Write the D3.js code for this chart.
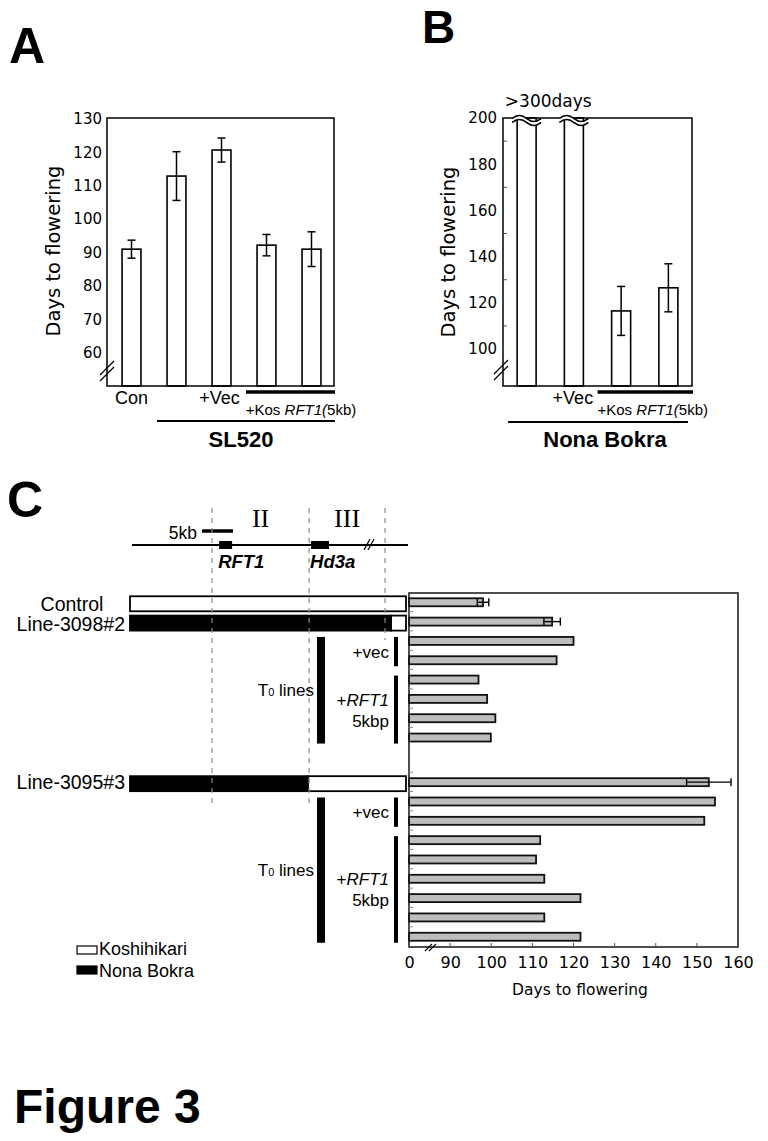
<!DOCTYPE html>
<html><head><meta charset="utf-8">
<script src="https://cdn.jsdelivr.net/npm/d3@7"></script>
<style>html,body{margin:0;padding:0;background:#fff}</style>
</head><body>
<svg id="fig" width="768" height="1141"></svg>
<script>
// ================= DATA =================
// Panel A
const aCategories = ["Con", "SL520", "+Vec", "+Kos RFT1 a", "+Kos RFT1 b"];
const aValues = [91.0, 112.9, 120.7, 92.2, 91.0];
const aErrors = [2.7, 7.3, 3.6, 3.2, 5.2];
const aTicks = [60, 70, 80, 90, 100, 110, 120, 130];

// Panel B (first two bars: >300 days, truncated)
const bCategories = ["Nona Bokra", "+Vec", "+Kos RFT1 a", "+Kos RFT1 b"];
const bValues = [300, 300, 116.5, 126.5];
const bErrors = [0, 0, 10.6, 10.4];
const bTicks = [100, 120, 140, 160, 180, 200];
const bMinorTicks = [110, 130, 150, 170, 190];

// Panel C
const cRows = ["Control", "Line-3098#2",
  "3098 vec-1", "3098 vec-2", "3098 RFT1-1", "3098 RFT1-2", "3098 RFT1-3", "3098 RFT1-4",
  "Line-3095#3",
  "3095 vec-1", "3095 vec-2", "3095 RFT1-1", "3095 RFT1-2", "3095 RFT1-3", "3095 RFT1-4", "3095 RFT1-5", "3095 RFT1-6"];
const cGroup = [1,1,1,1,1,1,1,1, 2,2,2,2,2,2,2,2,2];
const cValues = [98.0, 114.8, 120.0, 115.9, 96.9, 99.0, 101.0, 99.9,
  152.9, 154.4, 151.8, 111.9, 110.9, 112.9, 121.7, 112.9, 121.7];
const cErrors = [1.4, 2.0, 0, 0, 0, 0, 0, 0, 5.4, 0, 0, 0, 0, 0, 0, 0, 0];
const cTicks = [80, 90, 100, 110, 120, 130, 140, 150, 160];
const cTickLabels = ["0", "90", "100", "110", "120", "130", "140", "150", "160"];

// genotype map, positions relative along the drawn chromosome segment (0..1)
const mapBoundaries = [0.297, 0.649, 0.924];
const mapRegions = [{label: "II", from: 0.297, to: 0.649}, {label: "III", from: 0.649, to: 0.924}];
const mapGenes = [{name: "RFT1", start: 0.323, end: 0.370}, {name: "Hd3a", start: 0.656, end: 0.721}];
const mapScaleBar = {label: "5kb", start: 0.261, end: 0.373};
const genotypes = [
  {row: "Control", segments: [{from: 0, to: 1, type: "Koshihikari"}]},
  {row: "Line-3098#2", segments: [{from: 0, to: 0.946, type: "Nona Bokra"}, {from: 0.946, to: 1, type: "Koshihikari"}]},
  {row: "Line-3095#3", segments: [{from: 0, to: 0.645, type: "Nona Bokra"}, {from: 0.645, to: 1, type: "Koshihikari"}]}
];
const cT0Spans = [{from: "3098 vec-1", to: "3098 RFT1-4"}, {from: "3095 vec-1", to: "3095 RFT1-6"}];
const cConstructSpans = [
  {label: ["+vec"], from: "3098 vec-1", to: "3098 vec-2"},
  {label: ["+RFT1", "5kbp"], from: "3098 RFT1-1", to: "3098 RFT1-4"},
  {label: ["+vec"], from: "3095 vec-1", to: "3095 vec-2"},
  {label: ["+RFT1", "5kbp"], from: "3095 RFT1-1", to: "3095 RFT1-6"}
];
const legendItems = ["Koshihikari", "Nona Bokra"];

// ================= DRAWING =================
const SANS = "'Liberation Sans', Arial, Helvetica, sans-serif";
const ROUND = "'DejaVu Sans', sans-serif";
const SERIF = "'Liberation Serif', 'Times New Roman', serif";
const svg = d3.select("#fig");
svg.append("rect").attr("width", 768).attr("height", 1141).attr("fill", "#fff");

function txt(g, x, y, s, opt = {}) {
  return g.append("text").attr("x", x).attr("y", y)
    .attr("font-family", opt.family || SANS)
    .attr("font-size", opt.size || 16)
    .attr("font-weight", opt.weight || "normal")
    .attr("font-style", opt.style || "normal")
    .attr("text-anchor", opt.anchor || "start")
    .attr("fill", "#000").text(s);
}

// panel letters
txt(svg, 9, 63, "A", {size: 50, weight: "bold"});
txt(svg, 422, 43, "B", {size: 46, weight: "bold"});
txt(svg, 7, 517, "C", {size: 50, weight: "bold"});
txt(svg, 14, 1123, "Figure 3", {size: 48, weight: "bold"});

function breakMark(g, cx, cy) {
  [-3, 3].forEach(o => {
    g.append("line").attr("x1", cx - 7).attr("y1", cy + 7 + o)
      .attr("x2", cx + 7).attr("y2", cy - 7 + o)
      .attr("stroke", "#000").attr("stroke-width", 1.3);
  });
}

// ---------- Panel A ----------
(function () {
  const g = svg.append("g");
  const L = 107, R = 334, T = 118, B = 386;
  const y = d3.scaleLinear().domain([50, 130]).range([B, 119]);
  const x = d3.scaleBand().domain(aCategories).range([109, 334]).paddingInner(0.58).paddingOuter(0.29);

  g.selectAll("rect.bar").data(aCategories).join("rect")
    .attr("x", d => x(d)).attr("width", x.bandwidth())
    .attr("y", (d, i) => y(aValues[i])).attr("height", (d, i) => B - y(aValues[i]))
    .attr("fill", "#fff").attr("stroke", "#000").attr("stroke-width", 1.6);

  aCategories.forEach((d, i) => {
    const cx = x(d) + x.bandwidth() / 2, e = aErrors[i], v = aValues[i];
    g.append("line").attr("x1", cx).attr("x2", cx).attr("y1", y(v + e)).attr("y2", y(v - e)).attr("stroke", "#000").attr("stroke-width", 1.5);
    [v + e, v - e].forEach(t => g.append("line").attr("x1", cx - 4).attr("x2", cx + 4).attr("y1", y(t)).attr("y2", y(t)).attr("stroke", "#000").attr("stroke-width", 1.5));
  });

  g.append("rect").attr("x", L).attr("y", T).attr("width", R - L).attr("height", B - T)
    .attr("fill", "none").attr("stroke", "#000").attr("stroke-width", 1.5);

  const axis = d3.axisLeft(y).tickValues(aTicks).tickSize(0).tickPadding(5);
  const ag = g.append("g").attr("transform", `translate(${L},0)`).call(axis);
  ag.select(".domain").remove();
  ag.selectAll("text").attr("font-family", ROUND).attr("font-size", 15).attr("fill", "#000");

  breakMark(g, 107, 371);

  g.append("text").attr("transform", "translate(60,251) rotate(-90)")
    .attr("text-anchor", "middle").attr("font-family", ROUND).attr("font-size", 19.5).text("Days to flowering");

  const c = i => x(aCategories[i]) + x.bandwidth() / 2;
  txt(g, c(0), 404, "Con", {size: 18, anchor: "middle"});
  txt(g, c(2) - 2, 404, "+Vec", {size: 18, anchor: "middle"});
  g.append("line").attr("x1", x(aCategories[3]) - 11).attr("x2", R + 1).attr("y1", 392).attr("y2", 392).attr("stroke", "#000").attr("stroke-width", 3.5);
  const kt = txt(g, (c(3) + c(4)) / 2 + 12, 415, "", {size: 15, anchor: "middle"});
  kt.append("tspan").text("+Kos ");
  kt.append("tspan").attr("font-style", "italic").text("RFT1(");
  kt.append("tspan").text("5kb)");
  g.append("line").attr("x1", x(aCategories[1]) - 10).attr("x2", R + 1).attr("y1", 421).attr("y2", 421).attr("stroke", "#000").attr("stroke-width", 1.8);
  txt(g, 241, 447, "SL520", {size: 22, weight: "bold", anchor: "middle"});
})();

// ---------- Panel B ----------
(function () {
  const g = svg.append("g");
  const L = 503, R = 692, T = 118, B = 386;
  const y = d3.scaleLinear().domain([84, 200]).range([B, T]).clamp(true);
  const x = d3.scaleBand().domain(bCategories).range([L, R]).paddingInner(0.598).paddingOuter(0.299);

  g.selectAll("rect.bar").data(bCategories).join("rect")
    .attr("x", d => x(d)).attr("width", x.bandwidth())
    .attr("y", (d, i) => y(bValues[i])).attr("height", (d, i) => B - y(bValues[i]))
    .attr("fill", "#fff").attr("stroke", "#000").attr("stroke-width", 1.6);

  bCategories.forEach((d, i) => {
    const e = bErrors[i], v = bValues[i];
    if (!e) return;
    const cx = x(d) + x.bandwidth() / 2;
    g.append("line").attr("x1", cx).attr("x2", cx).attr("y1", y(v + e)).attr("y2", y(v - e)).attr("stroke", "#000").attr("stroke-width", 1.5);
    [v + e, v - e].forEach(t => g.append("line").attr("x1", cx - 4).attr("x2", cx + 4).attr("y1", y(t)).attr("y2", y(t)).attr("stroke", "#000").attr("stroke-width", 1.5));
  });

  g.append("rect").attr("x", L).attr("y", T).attr("width", R - L).attr("height", B - T)
    .attr("fill", "none").attr("stroke", "#000").attr("stroke-width", 1.5);

  // minor inward ticks
  g.selectAll("line.minor").data(bMinorTicks).join("line")
    .attr("x1", L).attr("x2", L + 4).attr("y1", d => y(d)).attr("y2", d => y(d))
    .attr("stroke", "#555").attr("stroke-width", 1);

  const axis = d3.axisLeft(y).tickValues(bTicks).tickSize(0).tickPadding(6);
  const ag = g.append("g").attr("transform", `translate(${L},0)`).call(axis);
  ag.select(".domain").remove();
  ag.selectAll("text").attr("font-family", ROUND).attr("font-size", 15).attr("fill", "#000");

  // wavy break marks on truncated bars
  const wave = d3.line().curve(d3.curveBasis);
  bCategories.forEach((d, i) => {
    if (bValues[i] <= 200) return;
    const x0 = x(d) - 5, x1 = x(d) + x.bandwidth() + 5;
    const pts = off => d3.range(0, 1.0001, 0.05).map(t => [x0 + t * (x1 - x0), T + off - 3 * Math.sin(2 * Math.PI * t)]);
    const top = pts(0.5), bot = pts(4.5);
    g.append("path").attr("d", wave(top.concat(bot.slice().reverse())) ).attr("fill", "#fff").attr("stroke", "none");
    g.append("path").attr("d", d3.line()(top.concat(bot.slice().reverse()))).attr("fill", "#fff").attr("stroke", "none");
    g.append("path").attr("d", wave(top)).attr("fill", "none").attr("stroke", "#000").attr("stroke-width", 1.6);
    g.append("path").attr("d", wave(bot)).attr("fill", "none").attr("stroke", "#000").attr("stroke-width", 1.6);
  });
  const c = i => x(bCategories[i]) + x.bandwidth() / 2;
  txt(g, (c(0) + c(1)) / 2 - 2, 107, ">300days", {family: ROUND, size: 17, anchor: "middle"});

  breakMark(g, 501, 370);

  g.append("text").attr("transform", "translate(455,252) rotate(-90)")
    .attr("text-anchor", "middle").attr("font-family", ROUND).attr("font-size", 19.5).text("Days to flowering");

  txt(g, c(1) - 1, 404, "+Vec", {size: 18, anchor: "middle"});
  g.append("line").attr("x1", x(bCategories[2]) - 14).attr("x2", R + 1).attr("y1", 392).attr("y2", 392).attr("stroke", "#000").attr("stroke-width", 3.5);
  const kt = txt(g, (c(2) + c(3)) / 2 + 8, 415, "", {size: 15, anchor: "middle"});
  kt.append("tspan").text("+Kos ");
  kt.append("tspan").attr("font-style", "italic").text("RFT1(");
  kt.append("tspan").text("5kb)");
  g.append("line").attr("x1", x(bCategories[0]) - 9).attr("x2", R - 4).attr("y1", 422).attr("y2", 422).attr("stroke", "#000").attr("stroke-width", 1.8);
  txt(g, 605, 447, "Nona Bokra", {size: 22, weight: "bold", anchor: "middle"});
})();

// ---------- Panel C ----------
(function () {
  const g = svg.append("g");
  const mx = d3.scaleLinear().domain([0, 1]).range([130, 406]);
  const groupGap = 1.31;
  const slot = cRows.map((r, i) => i + (cGroup[i] === 2 ? groupGap : 0));
  const slotOf = r => slot[cRows.indexOf(r)];
  const y = d3.scaleLinear().domain([-0.48, 17.84]).range([593, 947]);
  const yr = r => y(slotOf(r));
  const xb = d3.scaleLinear().domain([80, 160]).range([409, 738]);
  const L = 409, R = 738, T = 593, B = 947;

  // chromosome map
  const geneY = 545;
  g.append("line").attr("x1", mx(0) + 2).attr("x2", mx(1) + 2).attr("y1", geneY).attr("y2", geneY).attr("stroke", "#000").attr("stroke-width", 1.8);
  mapGenes.forEach(gn => {
    g.append("rect").attr("x", mx(gn.start)).attr("width", mx(gn.end) - mx(gn.start)).attr("y", geneY - 4).attr("height", 8).attr("fill", "#000");
    txt(g, mx(gn.start) - 1, 568, gn.name, {size: 18.5, weight: "bold", style: "italic"});
  });
  // break on map line
  [0, 4].forEach(o => g.append("line").attr("x1", 364 + o).attr("y1", 550).attr("x2", 370 + o).attr("y2", 539).attr("stroke", "#000").attr("stroke-width", 1.2));
  g.append("line").attr("x1", mx(mapScaleBar.start)).attr("x2", mx(mapScaleBar.end)).attr("y1", 531).attr("y2", 531).attr("stroke", "#000").attr("stroke-width", 3.5);
  txt(g, mx(mapScaleBar.start) - 5, 539, mapScaleBar.label, {size: 17.5, anchor: "end"});
  mapRegions.forEach(rg => txt(g, (mx(rg.from) + mx(rg.to)) / 2, 527, rg.label, {family: SERIF, size: 26, anchor: "middle"}));

  // genotype bars
  const colorOf = t => t === "Nona Bokra" ? "#000" : "#fff";
  genotypes.forEach(gt => {
    const cy = yr(gt.row) + 1.5;
    gt.segments.forEach(s => {
      g.append("rect").attr("x", mx(s.from)).attr("width", mx(s.to) - mx(s.from))
        .attr("y", cy - 7.5).attr("height", 15).attr("fill", colorOf(s.type))
        .attr("stroke", "#000").attr("stroke-width", 1.8);
    });
  });
  txt(g, 72, 611, "Control", {size: 19.5, anchor: "middle"});
  txt(g, 125, 631, "Line-3098#2", {size: 19.5, anchor: "end"});
  txt(g, 125, 789, "Line-3095#3", {size: 19.5, anchor: "end"});

  // dashed boundaries (drawn over the genotype bars)
  const dashEnds = [803, 803, 640];
  mapBoundaries.forEach((b, i) => {
    g.append("line").attr("x1", mx(b)).attr("x2", mx(b)).attr("y1", 508).attr("y2", dashEnds[i])
      .attr("stroke", "#8a8a8a").attr("stroke-width", 1.2).attr("stroke-dasharray", "5,5");
  });

  // T0 bars and construct bars
  cT0Spans.forEach(sp => {
    const y0 = yr(sp.from) - 4, y1 = yr(sp.to) + 6;
    g.append("rect").attr("x", 317).attr("width", 8).attr("y", y0).attr("height", y1 - y0).attr("fill", "#000");
    const t = txt(g, 314, (y0 + y1) / 2 + 6, "", {size: 17, anchor: "end"});
    t.append("tspan").text("T");
    t.append("tspan").attr("font-size", 11).text("0");
    t.append("tspan").text(" lines");
  });
  cConstructSpans.forEach(sp => {
    const y0 = yr(sp.from) - 4, y1 = yr(sp.to) + 6;
    g.append("rect").attr("x", 394).attr("width", 4).attr("y", y0).attr("height", y1 - y0).attr("fill", "#000");
    const mid = (y0 + y1) / 2;
    if (sp.label.length === 1) {
      txt(g, 389, mid + 6, sp.label[0], {size: 17, anchor: "end"});
    } else {
      const t = txt(g, 389, mid - 4, "", {size: 17, anchor: "end"});
      t.append("tspan").text("+");
      t.append("tspan").attr("font-style", "italic").text(sp.label[0].slice(1));
      txt(g, 389, mid + 17, sp.label[1], {size: 17, anchor: "end"});
    }
  });

  // bar chart
  g.append("rect").attr("x", L).attr("y", T).attr("width", R - L).attr("height", B - T)
    .attr("fill", "#fff").attr("stroke", "#222").attr("stroke-width", 1.6);
  // row boundary ticks
  cRows.forEach((r, i) => {
    if (i === 0 || cGroup[i] !== cGroup[i - 1] && false) return;
    const yy = yr(r) - 10;
    g.append("line").attr("x1", L).attr("x2", L + 4).attr("y1", yy).attr("y2", yy).attr("stroke", "#888").attr("stroke-width", 1);
  });
  g.selectAll("rect.cbar").data(cRows).join("rect")
    .attr("x", xb(80)).attr("width", (d, i) => xb(cValues[i]) - xb(80))
    .attr("y", d => yr(d) - 4).attr("height", 8)
    .attr("fill", "#bdbdbd").attr("stroke", "#111").attr("stroke-width", 1.8);
  cRows.forEach((r, i) => {
    const e = cErrors[i];
    if (!e) return;
    const v = cValues[i], cy = yr(r);
    g.append("line").attr("x1", xb(v - e)).attr("x2", xb(v + e)).attr("y1", cy).attr("y2", cy).attr("stroke", "#000").attr("stroke-width", 1.4);
    [v - e, v + e].forEach(t => g.append("line").attr("x1", xb(t)).attr("x2", xb(t)).attr("y1", cy - 4).attr("y2", cy + 4).attr("stroke", "#000").attr("stroke-width", 1.4));
  });

  const axis = d3.axisBottom(xb).tickValues(cTicks).tickFormat((d, i) => cTickLabels[i]).tickSize(0).tickPadding(10);
  const ag = g.append("g").attr("transform", `translate(0,${B})`).call(axis);
  ag.select(".domain").remove();
  ag.selectAll("text").attr("font-family", ROUND).attr("font-size", 16).attr("fill", "#000");
  g.selectAll("line.xt").data(cTicks.slice(1, -1)).join("line")
    .attr("x1", d => xb(d)).attr("x2", d => xb(d)).attr("y1", B).attr("y2", B - 4)
    .attr("stroke", "#555").attr("stroke-width", 1);
  [0, 4].forEach(o => g.append("line").attr("x1", 425 + o).attr("y1", 951).attr("x2", 432 + o).attr("y2", 944).attr("stroke", "#000").attr("stroke-width", 1.1));
  txt(g, 580, 995, "Days to flowering", {family: ROUND, size: 15.5, anchor: "middle"});

  // legend
  legendItems.forEach((it, i) => {
    const yy = 946 + i * 20;
    g.append("rect").attr("x", 77).attr("y", yy).attr("width", 20).attr("height", 8)
      .attr("fill", colorOf(it)).attr("stroke", "#000").attr("stroke-width", 1.2);
    txt(g, 99, 955 + i * 22, it, {size: 18});
  });
})();
</script>
</body></html>
